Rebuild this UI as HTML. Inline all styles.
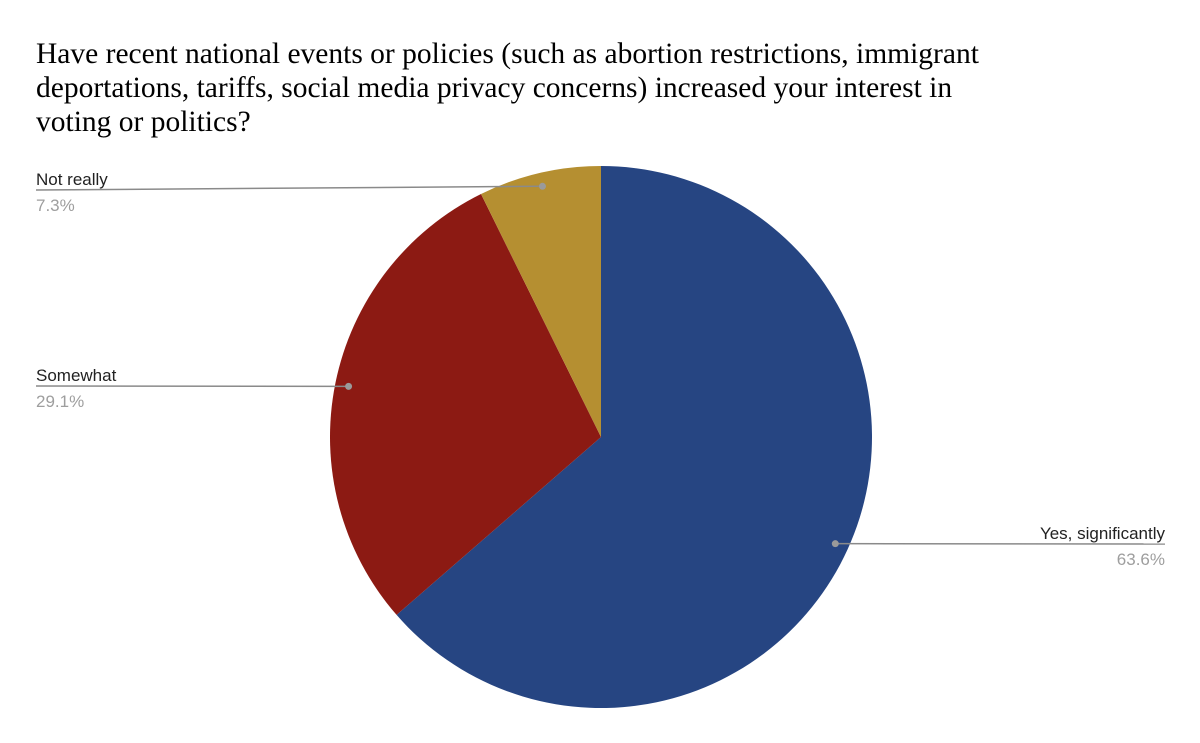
<!DOCTYPE html>
<html><head><meta charset="utf-8"><style>
html,body{margin:0;padding:0;background:#fff;}
svg{display:block;}
</style></head><body>
<svg width="1200" height="743" viewBox="0 0 1200 743" xmlns="http://www.w3.org/2000/svg">
<g font-family="Liberation Serif, serif" font-size="29.5" fill="#000">
<text x="36" y="63">Have recent national events or policies (such as abortion restrictions, immigrant</text>
<text x="36" y="97">deportations, tariffs, social media privacy concerns) increased your interest in</text>
<text x="36" y="131">voting or politics?</text>
</g>
<g id="slices"></g>
<g id="labels"></g>
</svg>
<script>
const categories = ["Yes, significantly", "Somewhat", "Not really"];
const values = [63.6, 29.1, 7.3];
const valueLabels = ["63.6%", "29.1%", "7.3%"];
const colors = ["#264582", "#8c1a13", "#b58f31"];

const cx = 601, cy = 437, R = 271;
const total = values.reduce((a, b) => a + b, 0);
const NS = "http://www.w3.org/2000/svg";
const sg = document.getElementById("slices");
const lg = document.getElementById("labels");
function pt(frac, r) {
  const a = frac * 2 * Math.PI;
  return [cx + r * Math.sin(a), cy - r * Math.cos(a)];
}
// label layout: [textX, lineY, anchor]
const layout = [[1165, 544, "end"], [36, 386, "start"], [36, 190, "start"]];
let acc = 0;
values.forEach((v, i) => {
  const f0 = acc / total, f1 = (acc + v) / total;
  acc += v;
  const p0 = pt(f0, R), p1 = pt(f1, R);
  const large = (f1 - f0) > 0.5 ? 1 : 0;
  const path = document.createElementNS(NS, "path");
  path.setAttribute("d", `M${cx},${cy} L${p0[0]},${p0[1]} A${R},${R} 0 ${large} 1 ${p1[0]},${p1[1]} Z`);
  path.setAttribute("fill", colors[i]);
  
  
  sg.appendChild(path);

  const mid = (f0 + f1) / 2;
  const d = pt(mid, R * 0.95);
  const [tx, ly, anchor] = layout[i];
  const line = document.createElementNS(NS, "polyline");
  line.setAttribute("points", `${d[0]},${d[1]} ${tx},${ly}`);
  line.setAttribute("stroke", "#8a8a8a");
  line.setAttribute("stroke-width", "1.5");
  line.setAttribute("fill", "none");
  
  
  lg.appendChild(line);
  const dot = document.createElementNS(NS, "circle");
  dot.setAttribute("cx", d[0]); dot.setAttribute("cy", d[1]); dot.setAttribute("r", "3.5");
  dot.setAttribute("fill", "#9a9a9a");
  
  
  lg.appendChild(dot);
  const t1 = document.createElementNS(NS, "text");
  t1.setAttribute("x", tx); t1.setAttribute("y", ly - 5);
  t1.setAttribute("text-anchor", anchor);
  t1.setAttribute("font-family", "Liberation Sans, sans-serif");
  t1.setAttribute("font-size", "17");
  t1.setAttribute("fill", "#222");
  t1.textContent = categories[i];
  
  
  lg.appendChild(t1);
  const t2 = document.createElementNS(NS, "text");
  t2.setAttribute("x", tx); t2.setAttribute("y", ly + 21);
  t2.setAttribute("text-anchor", anchor);
  t2.setAttribute("font-family", "Liberation Sans, sans-serif");
  t2.setAttribute("font-size", "17");
  t2.setAttribute("fill", "#9e9e9e");
  t2.textContent = valueLabels[i];
  
  
  lg.appendChild(t2);
});
</script>
</body></html>
